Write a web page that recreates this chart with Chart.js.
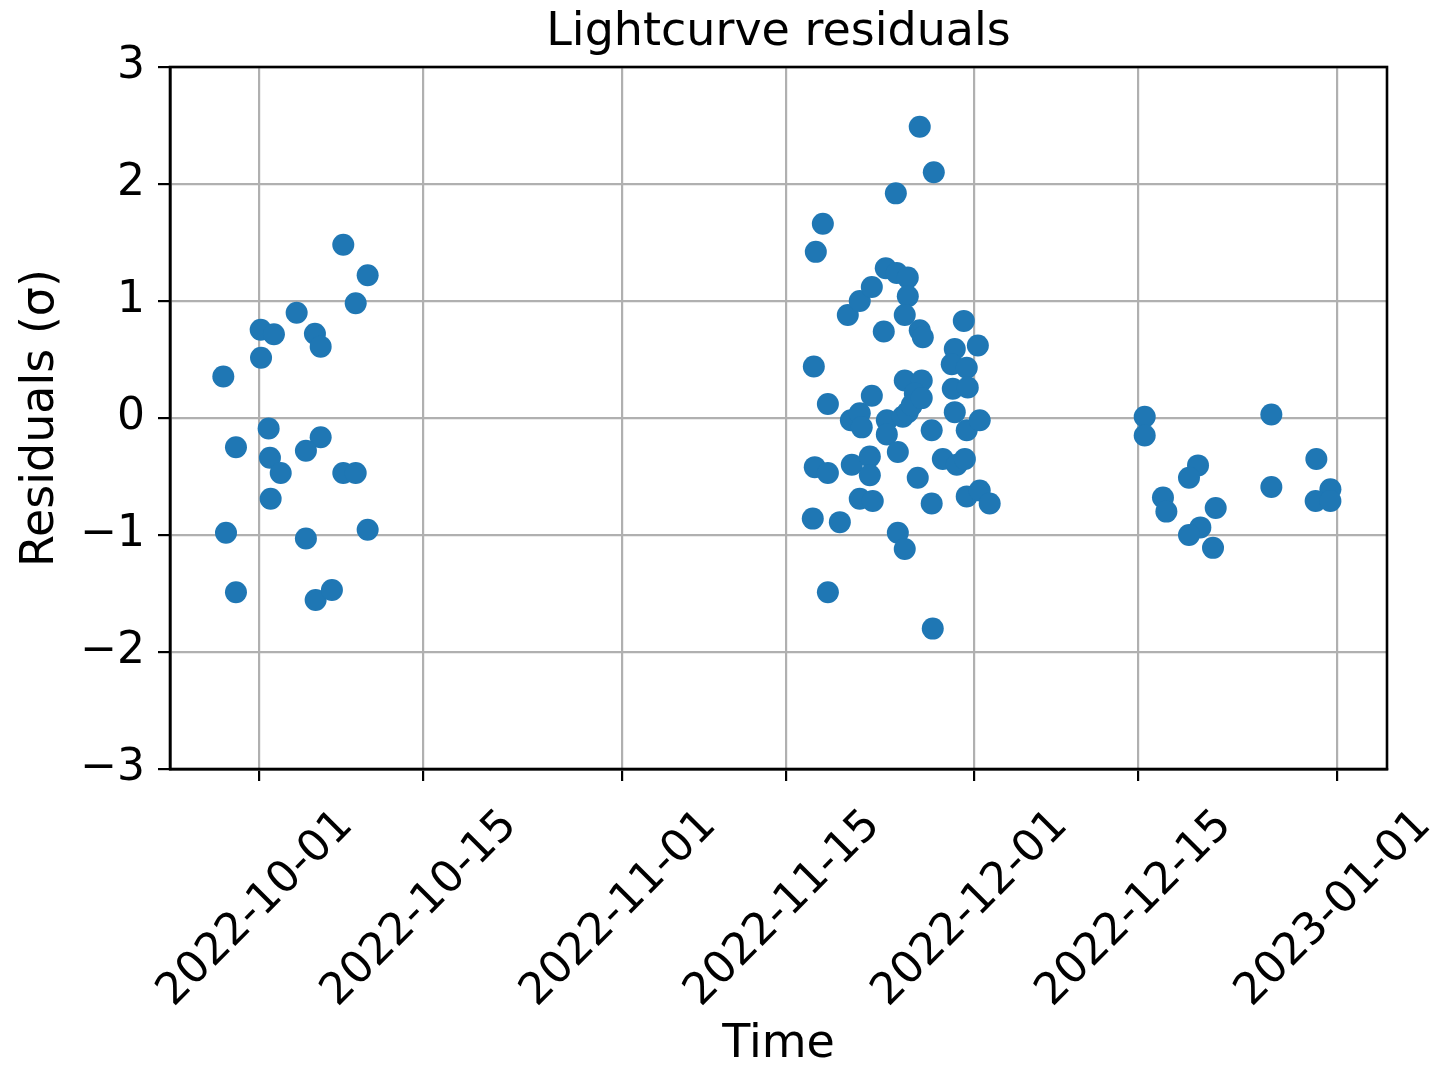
<!DOCTYPE html>
<html>
<head>
<meta charset="utf-8">
<script src="https://cdn.jsdelivr.net/npm/chart.js@4/dist/chart.umd.min.js"></script>
<style>
  html, body { margin: 0; padding: 0; background: #ffffff; }
  #wrap { width: 1442px; height: 1067px; position: relative; }
</style>
</head>
<body>
<div id="wrap"><canvas id="c" width="1442" height="1067"></canvas></div>
<script>
// ---- Data: time in days since 2022-10-01, residuals in sigma ----
const epochDate = '2022-10-01';
const timeDays = [
  // early October block
  7.17, 9.25, 8.23, 3.19, 0.12, 1.25, 4.75, 5.24, 0.15, -3.07,
  0.80, -1.99, 5.24, 3.98, 0.91, 1.83, 7.17, 8.23, 0.97, -2.84,
  3.98, 9.25, -1.99, 4.81, 6.20,
  // mid/late November block
  47.50, 48.10, 47.33, 48.53, 47.41, 48.53, 47.24, 48.53, 49.55, 50.23,
  51.25, 52.28, 50.49, 51.25, 51.42, 50.57, 52.11, 52.11, 51.25, 52.36,
  52.28, 53.30, 53.47, 54.41, 55.35, 54.33, 56.37, 57.57, 55.35, 55.09,
  56.37, 56.63, 53.56, 53.56, 54.92, 55.35, 54.50, 54.50, 55.09, 55.09,
  56.54, 55.95, 55.69, 56.54, 57.39, 56.20, 57.39, 57.48, 58.34, 59.53,
  60.22, 60.13, 61.33, 59.36, 59.10, 60.38, 59.19, 60.47, 59.36, 60.38,
  61.49, 60.38, 61.49, 62.34,
  // December block
  75.57, 75.57, 86.38, 80.12, 79.35, 77.13, 77.42, 81.63, 80.32, 79.35,
  81.40, 86.38, 90.22, 91.42, 90.16, 91.42
];
const residuals = [
  1.48, 1.22, 0.98, 0.90, 0.755, 0.715, 0.72, 0.61, 0.515, 0.355,
  -0.09, -0.25, -0.165, -0.28, -0.34, -0.47, -0.47, -0.47, -0.69, -0.98,
  -1.03, -0.955, -1.49, -1.556, -1.47,
  1.42, 1.66, 0.44, 0.12, -0.42, -0.47, -0.86, -1.49, -0.89, 0.88,
  1.00, 1.12, -0.02, 0.04, -0.08, -0.40, -0.33, -0.49, -0.69, -0.71,
  0.19, 0.74, 1.28, 1.24, 1.20, 1.92, 2.49, 2.10, 1.04, 0.88,
  0.75, 0.69, -0.02, -0.14, 0.01, 0.05, -0.29, -0.98, -1.12, 0.32,
  0.32, 0.21, 0.11, 0.17, -0.105, -0.51, -0.73, -1.80, -0.35, -0.40,
  -0.35, 0.83, 0.62, 0.59, 0.46, 0.43, 0.25, 0.26, 0.05, -0.105,
  -0.02, -0.67, -0.62, -0.73,
  0.01, -0.15, 0.03, -0.405, -0.51, -0.68, -0.80, -0.77, -0.935, -1.00,
  -1.11, -0.59, -0.35, -0.61, -0.71, -0.71
];
const tickDays = [0, 14, 31, 45, 61, 75, 92];
const tickLabels = ['2022-10-01', '2022-10-15', '2022-11-01', '2022-11-15', '2022-12-01', '2022-12-15', '2023-01-01'];
const yTicks = [-3, -2, -1, 0, 1, 2, 3];
const xRange = [-7.62, 96.25];
const yRange = [-3, 3];
const chartTitle = 'Lightcurve residuals';
const xTitle = 'Time';
const yTitle = 'Residuals (σ)';

// ---- Chart ----
const FONT = "'DejaVu Sans', sans-serif";
Chart.defaults.font.family = FONT;
Chart.defaults.font.size = 44;
Chart.defaults.color = '#000000';

const points = timeDays.map((t, i) => ({ x: t, y: residuals[i] }));

const framePlugin = {
  id: 'frame',
  afterDatasetsDraw(chart) {
    const { ctx, chartArea: a } = chart;
    ctx.save();
    ctx.strokeStyle = '#000000';
    ctx.lineWidth = 2.6;
    ctx.strokeRect(a.left, a.top, a.right - a.left, a.bottom - a.top);
    ctx.restore();
  }
};

new Chart(document.getElementById('c'), {
  type: 'scatter',
  data: {
    datasets: [{
      label: 'residuals',
      data: points,
      backgroundColor: '#1f77b4',
      borderWidth: 0,
      pointRadius: 11,
      pointHoverRadius: 11
    }]
  },
  options: {
    responsive: false,
    animation: false,
    layout: { padding: { left: 0, right: 55, top: 0, bottom: 0 } },
    plugins: {
      legend: { display: false },
      tooltip: { enabled: false },
      title: { display: false }
    },
    scales: {
      x: {
        type: 'linear',
        position: 'bottom',
        min: xRange[0],
        max: xRange[1],
        afterBuildTicks(scale) { scale.ticks = tickDays.map(v => ({ value: v })); },
        afterFit(scale) { scale.height = 298; },
        grid: { color: '#b0b0b0', lineWidth: 2.2, drawTicks: true, tickLength: 12, tickColor: '#000000', tickWidth: 2.2 },
        border: { display: true, color: '#000000', width: 2.6 },
        ticks: {
          autoSkip: false,
          minRotation: 45,
          maxRotation: 45,
          padding: 19,
          labelOffset: 87,
          font: { size: 44 },
          callback(value, index) { return tickLabels[index]; }
        },
        title: { display: true, text: xTitle, font: { size: 46 }, padding: { top: 0, bottom: -6 } }
      },
      top: {
        type: 'linear',
        position: 'top',
        min: xRange[0],
        max: xRange[1],
        afterFit(scale) { scale.height = 67; },
        grid: { display: false, drawTicks: false },
        border: { display: false },
        ticks: { display: false },
        title: { display: true, text: chartTitle, font: { size: 46 }, padding: { top: 5, bottom: 0 } }
      },
      y: {
        type: 'linear',
        position: 'left',
        min: yRange[0],
        max: yRange[1],
        afterBuildTicks(scale) { scale.ticks = yTicks.map(v => ({ value: v })); },
        afterFit(scale) { scale.width = 170; },
        grid: { color: '#b0b0b0', lineWidth: 2.2, drawTicks: true, tickLength: 12, tickColor: '#000000', tickWidth: 2.2 },
        border: { display: true, color: '#000000', width: 2.6 },
        ticks: {
          padding: 13,
          font: { size: 44 },
          callback(value) { return value < 0 ? '\u2212' + Math.abs(value) : String(value); }
        },
        title: { display: true, text: yTitle, font: { size: 46 }, padding: { top: 13, bottom: 0 } }
      }
    }
  },
  plugins: [framePlugin]
});
</script>
</body>
</html>
